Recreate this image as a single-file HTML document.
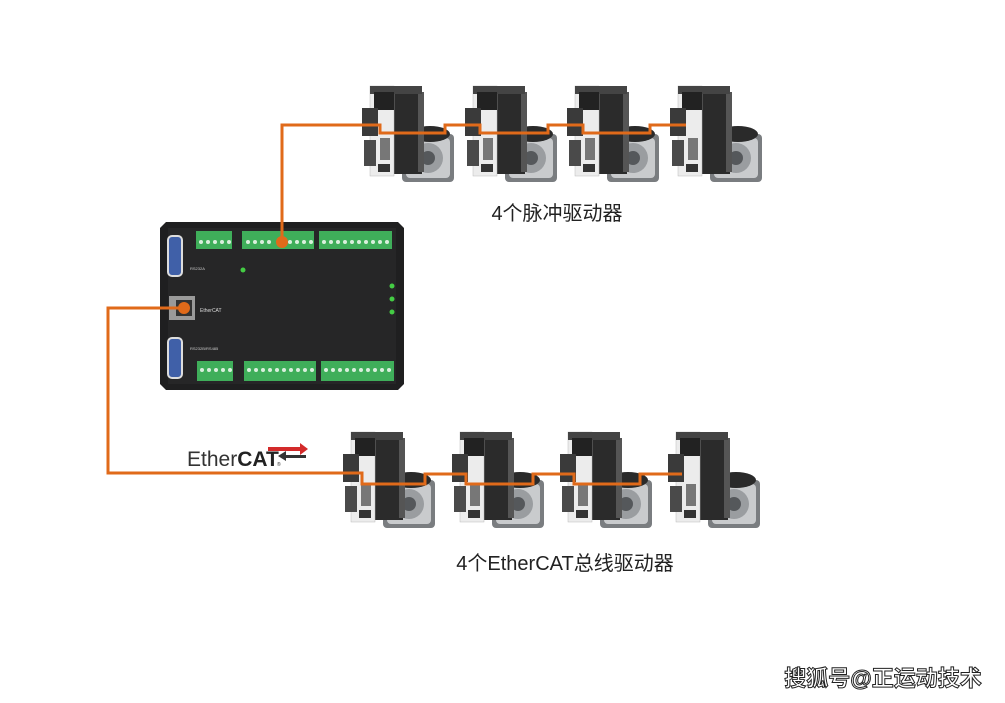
<!DOCTYPE html>
<html><head><meta charset="utf-8"><style>
html,body{margin:0;padding:0;background:#fff;width:1005px;height:703px;overflow:hidden}
svg{display:block}
text{font-family:"Liberation Sans","Noto Sans CJK SC",sans-serif}
</style></head><body>
<svg width="1005" height="703" viewBox="0 0 1005 703" xmlns="http://www.w3.org/2000/svg">
<defs>
<g id="drv">
  <rect x="40" y="48" width="52" height="48" rx="4" fill="#7a7d80"/>
  <rect x="44" y="52" width="44" height="40" rx="4" fill="#c9cbcd"/>
  <circle cx="66" cy="72" r="15" fill="#9a9da0"/>
  <circle cx="66" cy="72" r="7" fill="#55585b"/>
  <ellipse cx="68" cy="48" rx="20" ry="8" fill="#2a2a2a"/>
  <rect x="30" y="0" width="30" height="88" fill="#2b2b2b"/>
  <rect x="56" y="6" width="6" height="80" fill="#555"/>
  <rect x="8" y="0" width="24" height="90" fill="#ececec" stroke="#bbb" stroke-width="0.5"/>
  <rect x="8" y="0" width="52" height="8" fill="#444"/>
  <rect x="12" y="6" width="20" height="18" fill="#222"/>
  <rect x="0" y="22" width="16" height="28" fill="#3a3a3a"/>
  <rect x="2" y="54" width="12" height="26" fill="#4a4a4a"/>
  <rect x="18" y="52" width="10" height="22" fill="#777"/>
  <rect x="16" y="78" width="12" height="8" fill="#333"/>
</g>
</defs>

<use href="#drv" x="362" y="86"/>
<use href="#drv" x="465" y="86"/>
<use href="#drv" x="567" y="86"/>
<use href="#drv" x="670" y="86"/>
<use href="#drv" x="343" y="432"/>
<use href="#drv" x="452" y="432"/>
<use href="#drv" x="560" y="432"/>
<use href="#drv" x="668" y="432"/>

<path d="M166,222 H398 L404,228 V384 L398,390 H166 L160,384 V228 Z" fill="#1f1f20"/>
<rect x="168" y="228" width="228" height="156" fill="#262627"/>
<rect x="168" y="236" width="14" height="40" rx="4" fill="#4060a8" stroke="#ddd" stroke-width="2"/>
<rect x="168" y="338" width="14" height="40" rx="4" fill="#4060a8" stroke="#ddd" stroke-width="2"/>
<rect x="169" y="296" width="26" height="24" fill="#9a9a9a"/>
<rect x="176" y="300" width="16" height="16" fill="#333"/>
<circle cx="184" cy="308" r="6" fill="#e06a1a"/>
<text x="200" y="312" font-size="5" fill="#ddd">EtherCAT</text>
<text x="190" y="270" font-size="4" fill="#ccc">RS232A</text>
<text x="190" y="350" font-size="4" fill="#ccc">RS232B/RS485</text>
<g fill="#3fae5a">
<rect x="196" y="231" width="36" height="18"/>
<rect x="242" y="231" width="72" height="18"/>
<rect x="319" y="231" width="73" height="18"/>
<rect x="197" y="361" width="36" height="20"/>
<rect x="244" y="361" width="72" height="20"/>
<rect x="321" y="361" width="73" height="20"/>
</g>
<g fill="#d9efdd">
<circle cx="201" cy="242" r="2"/><circle cx="208" cy="242" r="2"/><circle cx="215" cy="242" r="2"/><circle cx="222" cy="242" r="2"/><circle cx="229" cy="242" r="2"/>
<circle cx="248" cy="242" r="2"/><circle cx="255" cy="242" r="2"/><circle cx="262" cy="242" r="2"/><circle cx="269" cy="242" r="2"/><circle cx="290" cy="242" r="2"/><circle cx="297" cy="242" r="2"/><circle cx="304" cy="242" r="2"/><circle cx="311" cy="242" r="2"/>
<circle cx="324" cy="242" r="2"/><circle cx="331" cy="242" r="2"/><circle cx="338" cy="242" r="2"/><circle cx="345" cy="242" r="2"/><circle cx="352" cy="242" r="2"/><circle cx="359" cy="242" r="2"/><circle cx="366" cy="242" r="2"/><circle cx="373" cy="242" r="2"/><circle cx="380" cy="242" r="2"/><circle cx="387" cy="242" r="2"/>
<circle cx="202" cy="370" r="2"/><circle cx="209" cy="370" r="2"/><circle cx="216" cy="370" r="2"/><circle cx="223" cy="370" r="2"/><circle cx="230" cy="370" r="2"/>
<circle cx="249" cy="370" r="2"/><circle cx="256" cy="370" r="2"/><circle cx="263" cy="370" r="2"/><circle cx="270" cy="370" r="2"/><circle cx="277" cy="370" r="2"/><circle cx="284" cy="370" r="2"/><circle cx="291" cy="370" r="2"/><circle cx="298" cy="370" r="2"/><circle cx="305" cy="370" r="2"/><circle cx="312" cy="370" r="2"/>
<circle cx="326" cy="370" r="2"/><circle cx="333" cy="370" r="2"/><circle cx="340" cy="370" r="2"/><circle cx="347" cy="370" r="2"/><circle cx="354" cy="370" r="2"/><circle cx="361" cy="370" r="2"/><circle cx="368" cy="370" r="2"/><circle cx="375" cy="370" r="2"/><circle cx="382" cy="370" r="2"/><circle cx="389" cy="370" r="2"/>
</g>
<g fill="#4c4">
<circle cx="243" cy="270" r="2.5"/><circle cx="392" cy="286" r="2.5"/><circle cx="392" cy="299" r="2.5"/><circle cx="392" cy="312" r="2.5"/>
</g>
<circle cx="282" cy="242" r="6" fill="#e06a1a"/>

<g fill="none" stroke="#e06a1a" stroke-width="3">
<polyline points="282,242 282,125 380,125 380,133 445,133 445,125 480,125 480,133 548,133 548,125 583,125 583,133 650,133 650,125 686,125"/>
<polyline points="183,308 108,308 108,473 362,473 362,484 425,484 425,474 466,474 466,484 533,484 533,474 574,474 574,484 640,484 640,474 682,474"/>
</g>

<text x="187" y="466" font-size="21" fill="#333">Ether<tspan font-weight="bold" fill="#222">CAT</tspan></text>
<text x="277" y="466" font-size="5" fill="#333">®</text>
<polygon points="268,447 300,447 300,443 308,449 300,455 300,451 268,451" fill="#d32a2a"/>
<polygon points="286,455 306,455 306,458 286,458 286,461 278,456 286,451" fill="#333"/>

<text x="557" y="220" font-size="20" fill="#222" text-anchor="middle">4个脉冲驱动器</text>
<text x="565" y="570" font-size="20" fill="#222" text-anchor="middle">4个EtherCAT总线驱动器</text>
<text x="883" y="686" font-size="22" font-weight="bold" fill="#fff" stroke="#222" stroke-width="1" text-anchor="middle">搜狐号@正运动技术</text>
</svg>
</body></html>
